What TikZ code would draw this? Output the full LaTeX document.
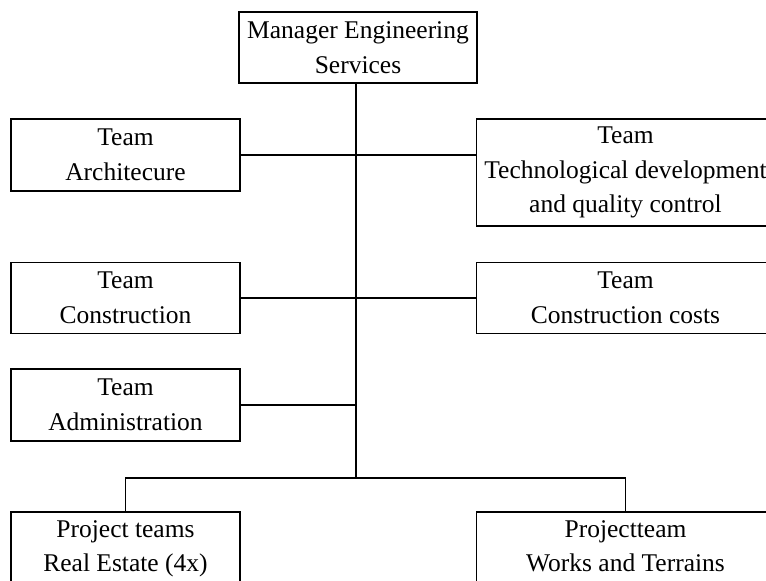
\documentclass[tikz,border=0pt]{standalone}
\usepackage{fontspec}
\setmainfont{Liberation Serif}
\begin{document}
\begin{tikzpicture}[x=1pt,y=-1pt,
  box/.style={draw, rectangle, line width=1.3pt, align=center,
    font=\fontsize{25.5}{34.5}\selectfont, inner sep=0pt},
  narrowbox/.style={box, minimum width=229pt, minimum height=72pt},
  widebox/.style={box, minimum width=298pt},
  link/.style={line width=1.3pt}]
  \useasboundingbox (0,0) rectangle (766,581);
  \clip (0,0) rectangle (766,581);
  \fill[white] (0,0) rectangle (766,581);

  % head of the department
  \node[box, minimum width=238pt, minimum height=71pt] (mgr) at (358,47.5)
    {Manager Engineering\\Services};

  % staff teams
  \node[narrowbox] (arch)   at (125.5,155)   {Team\\Architecure};
  \node[widebox, minimum height=107pt] (tech) at (625.5,172.5)
    {Team\\Technological development\\and quality control};
  \node[narrowbox, minimum height=71pt] (constr) at (125.5,298) {Team\\Construction};
  \node[widebox, minimum height=71pt] (costs)  at (625.5,298) {Team\\Construction costs};
  \node[narrowbox] (admin)  at (125.5,405)   {Team\\Administration};

  % project teams (their lower edge runs off the page)
  \node[narrowbox, minimum height=74pt] (proj1) at (125.5,549)
    {Project teams\\Real Estate (4x)};
  \node[widebox, minimum height=74pt] (proj2) at (625.5,549)
    {Projectteam\\Works and Terrains\vphantom{()}};

  % connectors
  \coordinate (trunk) at (356,478);
  \draw[link] (mgr.south -| trunk) -- (trunk);
  \draw[link] (arch.east) -- (arch.east -| tech.west);
  \draw[link] (constr.east) -- (constr.east -| costs.west);
  \draw[link] (admin.east) -- (admin.east -| trunk);
  \draw[link] (proj1.north) |- (trunk) -| (proj2.north);
\end{tikzpicture}
\end{document}
